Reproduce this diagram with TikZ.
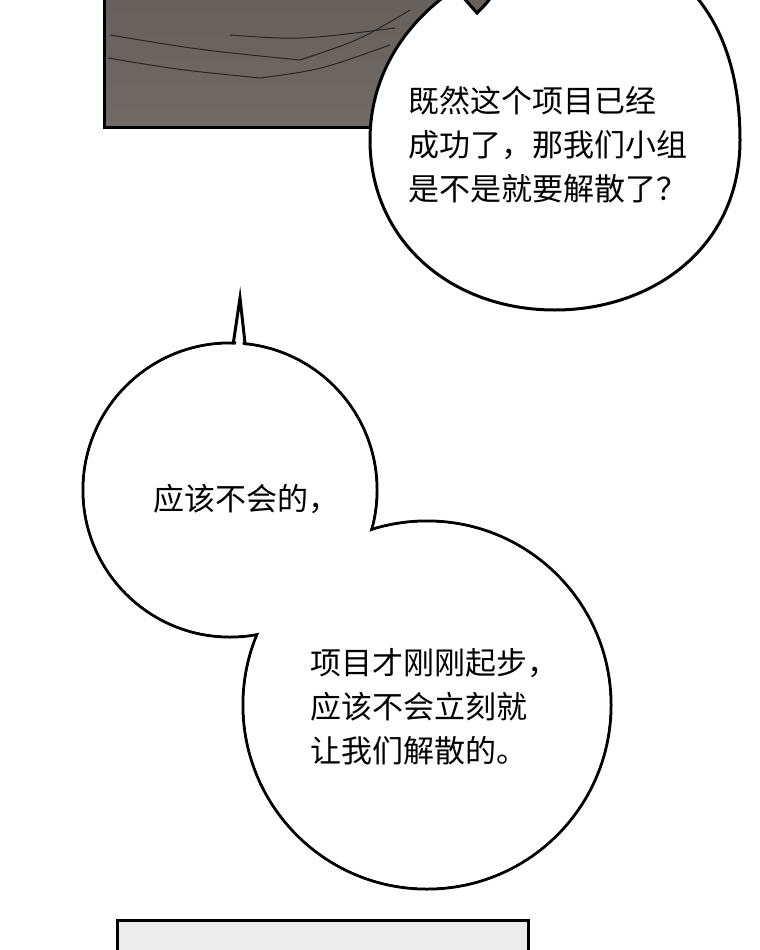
\documentclass[tikz,border=0pt]{standalone}
\usepackage{fontspec}
\newfontfamily\cjk{Noto Sans CJK SC}
\definecolor{panelgray}{HTML}{716B67}
\tikzset{
  outline/.style={draw=black, line width=3pt},
  saytext/.style={font=\cjk\fontsize{31}{44}\selectfont, anchor=north west, align=left, inner sep=0pt}
}
\begin{document}
\begin{tikzpicture}[x=1pt, y=-1pt]
  \useasboundingbox (0,0) rectangle (760,950);
  \clip (0,0) rectangle (760,950);
  % top panel
  \shade[top color=panelgray!90!black, bottom color=panelgray] (104,-2) rectangle (520,127);
  \draw[black!85, line width=1pt] (110,35) .. controls (200,50) .. (300,60) .. controls (360,40) .. (410,10);
  \draw[black!85, line width=1pt] (108,58) .. controls (180,70) .. (260,78) .. controls (320,70) .. (390,45);
  \draw[black!85, line width=1pt] (230,35) .. controls (300,40) .. (395,28);
  \draw[line width=3pt] (104,-2) -- (104,127) -- (520,127);
  % top bubble
  \draw[outline, fill=white] (370,140) .. controls (370,80) and (400,30) .. (445,-4) -- (462,-4) -- (477,13)
    .. controls (490,0) .. (500,-20) -- (680,-20) .. controls (725,20) and (740,80) .. (740,140)
    .. controls (740,250) and (650,310) .. (555,310)
    .. controls (450,310) and (370,240) .. (370,140);
  \node[saytext] (q1) at (408,86) {既然这个项目已经\\成功了，那我们小组\\是不是就要解散了？};
  % middle bubble
  \draw[outline, fill=white] (232,352) -- (240,298) -- (246,352) -- cycle;
  \draw[outline] (230,490) circle[radius=147];
  \draw[outline] (427,705) circle[radius=184];
  \fill[white] (230,490) circle[radius=145.5];
  \fill[white] (427,705) circle[radius=182.5];
  \fill[white] (234,356) -- (240,320) -- (244,356) -- cycle;
  \node[saytext] (a1) at (153,484) {应该不会的，};
  \node[saytext] (a2) at (310,648) {项目才刚刚起步，\\应该不会立刻就\\让我们解散的。};
  % bottom panel
  \fill[gray!15] (117,920) rectangle (528,952);
  \draw[line width=3pt] (117,952) -- (117,920) -- (528,920) -- (528,952);
\end{tikzpicture}
\end{document}
